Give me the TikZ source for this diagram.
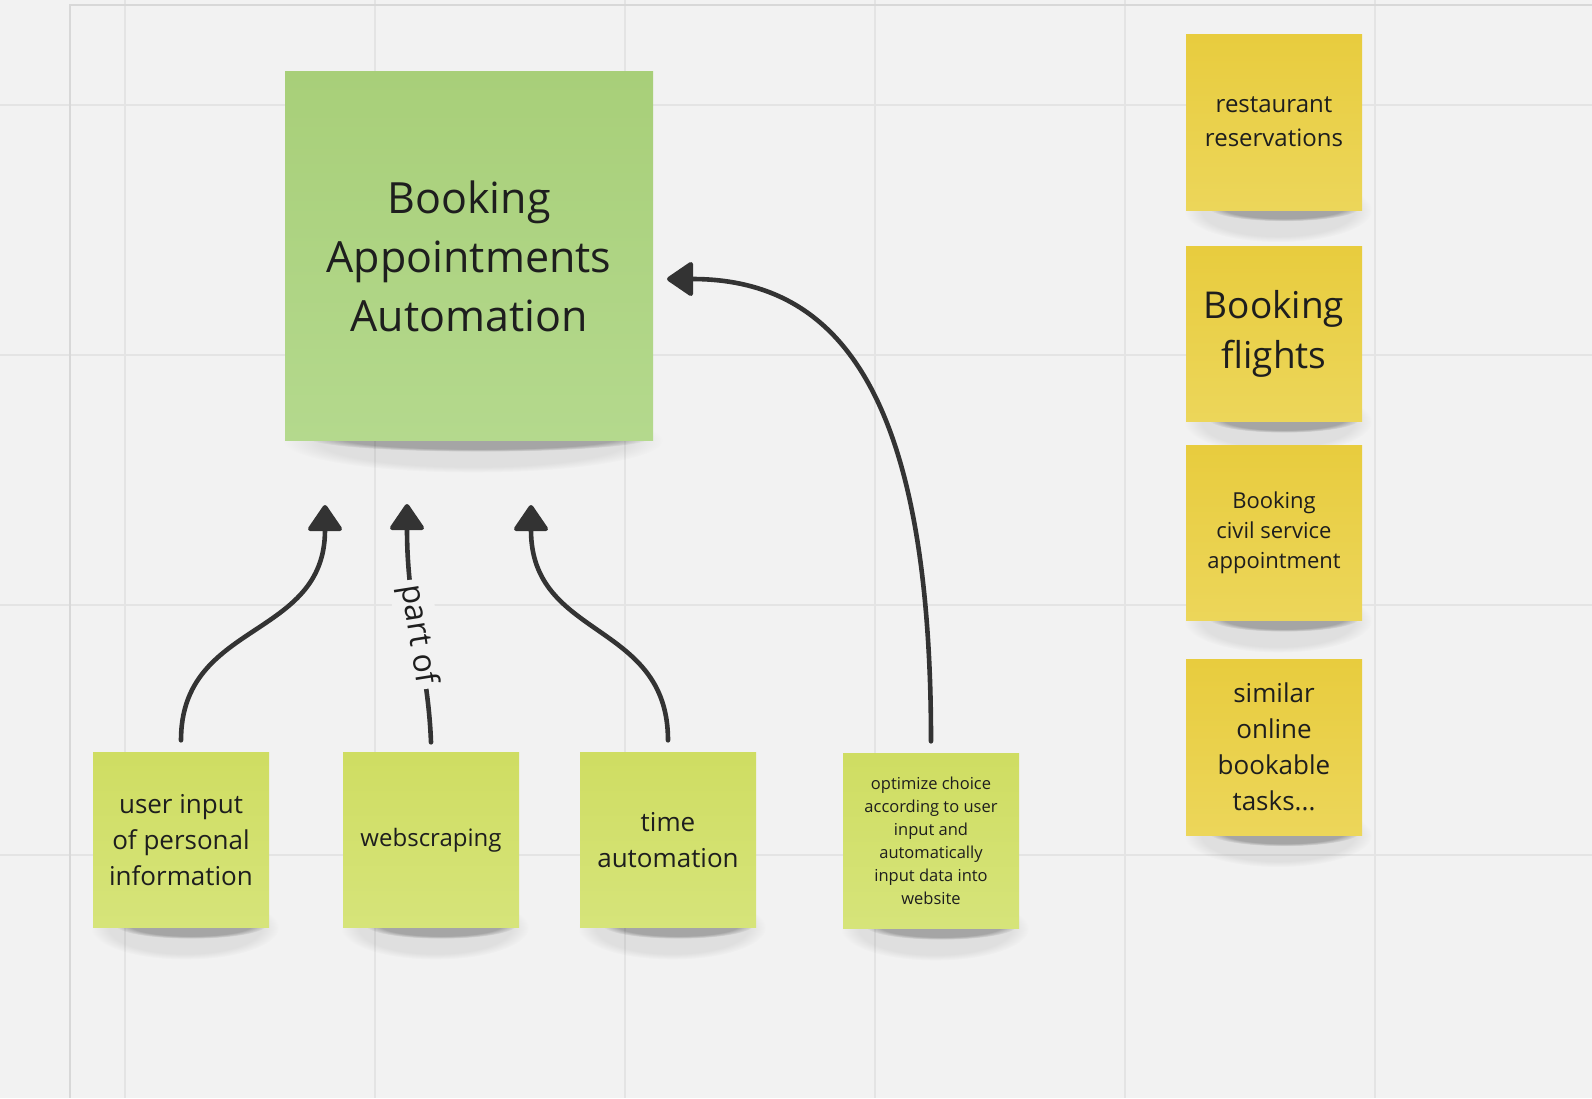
\documentclass[tikz,border=0pt]{standalone}
\usepackage{fontspec}
\setmainfont{Open Sans}
\usetikzlibrary{arrows.meta,backgrounds,fadings}

\definecolor{board}{HTML}{F2F2F2}
\definecolor{gridc}{HTML}{E4E4E4}
\definecolor{framec}{HTML}{D8D8D8}
\definecolor{ink}{HTML}{1E1E1E}
\definecolor{arrowc}{HTML}{333333}
\definecolor{maintop}{HTML}{A8CF79}
\definecolor{mainbot}{HTML}{B4D98D}
\definecolor{limetop}{HTML}{CFDD62}
\definecolor{limebot}{HTML}{D6E47A}
\definecolor{yeltop}{HTML}{E8CC3E}
\definecolor{yelbot}{HTML}{ECD65A}

\newcommand{\notefont}[2]{\fontsize{#1}{#2}\selectfont}

\tikzset{
  note/.style={rectangle, inner sep=0pt, minimum width=176pt, minimum height=175pt,
    align=center, text=ink},
  limenote/.style={note, top color=limetop, bottom color=limebot},
  yellownote/.style={note, top color=yeltop, bottom color=yelbot},
  link/.style={draw=arrowc, line width=4.6pt, line cap=round,
    -{Triangle[length=28pt,width=37pt,round]}},
  gridline/.style={draw=gridc, line width=1.5pt},
  frameline/.style={draw=framec, line width=2pt},
}

\begin{document}
\begin{tikzpicture}[x=1pt, y=-1pt]
    \useasboundingbox (0,0) rectangle (1592,1098);

    % Main goal
    \node[note, top color=maintop, bottom color=mainbot, minimum width=368pt, minimum height=369pt,
        font=\notefont{43}{59}] (main) at (469,256) {Booking\\Appointments\\Automation};

    % Building blocks
    \node[limenote, font=\notefont{26}{36}] (user) at (181,840) {user input\\of personal\\information};
    \node[limenote, font=\notefont{24}{34}] (web)  at (431,840) {webscraping};
    \node[limenote, font=\notefont{26}{36}] (time) at (668,840) {time\\automation};
    \node[limenote, font=\notefont{16.5}{23}] (opt) at (931,841)
        {optimize choice\\according to user\\input and\\automatically\\input data into\\website};

    % Use cases
    \node[yellownote, minimum height=176pt, font=\notefont{24}{34}] (rest) at (1274,122) {restaurant\\reservations};
    \node[yellownote, font=\notefont{37}{50}] (flight) at (1274,334) {Booking\\flights};
    \node[yellownote, font=\notefont{22}{30}] (civil) at (1274,533) {Booking\\civil service\\appointment};
    \node[yellownote, minimum height=176pt, font=\notefont{26}{36}] (similar) at (1274,747) {similar\\online\\bookable\\tasks...};

    % Arrow ends below the main note
    \coordinate (upA) at (325,505);
    \coordinate (upB) at (407,504);
    \coordinate (upC) at (531,505);
    \coordinate (upD) at (667,279);

    % Arrows
    \draw[link] ([yshift=12pt]user.north) .. controls +(0,-120) and +(0,135) .. (upA);
    \draw[link] ([yshift=10pt]web.north) .. controls +(-3,-80) and +(0,110) .. (upB)
        node[midway, sloped, fill=board, inner sep=5pt, text=ink, font=\notefont{32}{38}] {part of};
    \draw[link] ([yshift=12pt]time.north) .. controls +(0,-120) and +(0,135) .. (upC);
    \draw[link] ([yshift=12pt]opt.north) .. controls +(0,-350) and +(170,0) .. (upD);

    % Board, grid and note shadows
    \begin{scope}[on background layer]
        \fill[board] (0,0) rectangle (1592,1098);
        \foreach \x in {125,375,...,1375}
            \draw[gridline] (\x,0) -- (\x,1098);
        \foreach \y in {105,355,...,855}
            \draw[gridline] (0,\y) -- (1592,\y);
        \draw[frameline] (1592,5) -- (70,5) -- (70,1098);
        \foreach \n/\w in {main/368,user/176,web/176,time/176,opt/176,rest/176,flight/176,civil/176,similar/176} {
            \fill[black, opacity=.08, path fading=circle with fuzzy edge 20 percent]
                ([xshift=4pt]\n.south) ellipse [x radius=\w/2*1pt+6pt, y radius=32pt];
            \fill[black, opacity=.26, path fading=circle with fuzzy edge 20 percent]
                ([xshift=10pt,yshift=3pt]\n.south) ellipse [x radius=\w/2*1pt-12pt, y radius=14pt];
        }
    \end{scope}
\end{tikzpicture}
\end{document}
